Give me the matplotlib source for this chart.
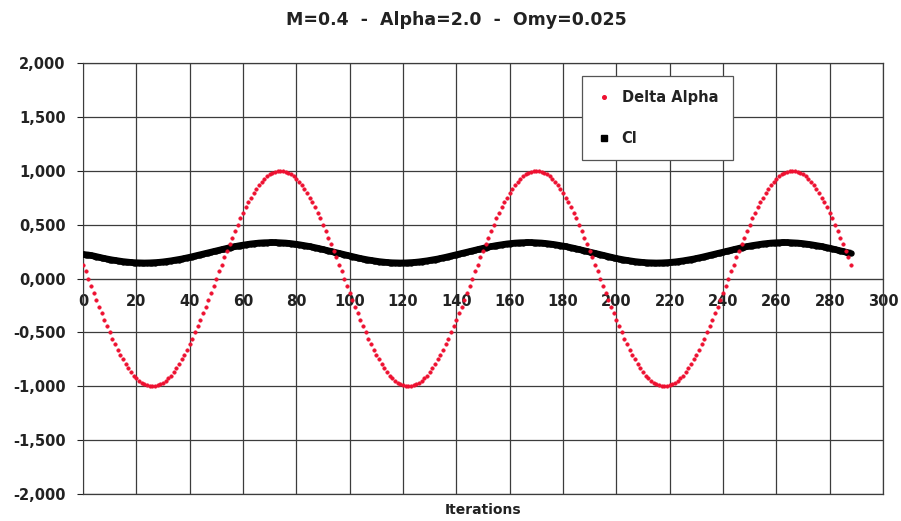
import numpy as np
import matplotlib
matplotlib.use("Agg")
import matplotlib.pyplot as plt
from matplotlib.lines import Line2D
from matplotlib.ticker import FuncFormatter, MultipleLocator

# Delta Alpha per iteration (0..288)
delta_alpha = [
    0.13, 0.07, 0.00, -0.07, -0.13, -0.20, -0.26, -0.32, -0.38, -0.44, -0.50, -0.56, -0.61, -0.66, -0.71, -0.75, -0.79, -0.83, -0.87, -0.90, -0.92, -0.95, -0.97, -0.98,
    -0.99, -1.00, -1.00, -1.00, -0.99, -0.98, -0.97, -0.95, -0.92, -0.90, -0.87, -0.83, -0.79, -0.75, -0.71, -0.66, -0.61, -0.56, -0.50, -0.44, -0.38, -0.32, -0.26, -0.20,
    -0.13, -0.07, 0.00, 0.07, 0.13, 0.20, 0.26, 0.32, 0.38, 0.44, 0.50, 0.56, 0.61, 0.66, 0.71, 0.75, 0.79, 0.83, 0.87, 0.90, 0.92, 0.95, 0.97, 0.98,
    0.99, 1.00, 1.00, 1.00, 0.99, 0.98, 0.97, 0.95, 0.92, 0.90, 0.87, 0.83, 0.79, 0.75, 0.71, 0.66, 0.61, 0.56, 0.50, 0.44, 0.38, 0.32, 0.26, 0.20,
    0.13, 0.07, 0.00, -0.07, -0.13, -0.20, -0.26, -0.32, -0.38, -0.44, -0.50, -0.56, -0.61, -0.66, -0.71, -0.75, -0.79, -0.83, -0.87, -0.90, -0.92, -0.95, -0.97, -0.98,
    -0.99, -1.00, -1.00, -1.00, -0.99, -0.98, -0.97, -0.95, -0.92, -0.90, -0.87, -0.83, -0.79, -0.75, -0.71, -0.66, -0.61, -0.56, -0.50, -0.44, -0.38, -0.32, -0.26, -0.20,
    -0.13, -0.07, 0.00, 0.07, 0.13, 0.20, 0.26, 0.32, 0.38, 0.44, 0.50, 0.56, 0.61, 0.66, 0.71, 0.75, 0.79, 0.83, 0.87, 0.90, 0.92, 0.95, 0.97, 0.98,
    0.99, 1.00, 1.00, 1.00, 0.99, 0.98, 0.97, 0.95, 0.92, 0.90, 0.87, 0.83, 0.79, 0.75, 0.71, 0.66, 0.61, 0.56, 0.50, 0.44, 0.38, 0.32, 0.26, 0.20,
    0.13, 0.07, 0.00, -0.07, -0.13, -0.20, -0.26, -0.32, -0.38, -0.44, -0.50, -0.56, -0.61, -0.66, -0.71, -0.75, -0.79, -0.83, -0.87, -0.90, -0.92, -0.95, -0.97, -0.98,
    -0.99, -1.00, -1.00, -1.00, -0.99, -0.98, -0.97, -0.95, -0.92, -0.90, -0.87, -0.83, -0.79, -0.75, -0.71, -0.66, -0.61, -0.56, -0.50, -0.44, -0.38, -0.32, -0.26, -0.20,
    -0.13, -0.07, 0.00, 0.07, 0.13, 0.20, 0.26, 0.32, 0.38, 0.44, 0.50, 0.56, 0.61, 0.66, 0.71, 0.75, 0.79, 0.83, 0.87, 0.90, 0.92, 0.95, 0.97, 0.98,
    0.99, 1.00, 1.00, 1.00, 0.99, 0.98, 0.97, 0.95, 0.92, 0.90, 0.87, 0.83, 0.79, 0.75, 0.71, 0.66, 0.61, 0.56, 0.50, 0.44, 0.38, 0.32, 0.26, 0.20,
    0.13,
]

# Cl per iteration (0..288)
cl = [
    0.224, 0.222, 0.219, 0.215, 0.210, 0.204, 0.198, 0.192, 0.187, 0.182, 0.177, 0.173, 0.169, 0.165, 0.161, 0.158, 0.155, 0.152, 0.150, 0.148, 0.147, 0.146, 0.145, 0.145,
    0.145, 0.146, 0.147, 0.148, 0.150, 0.152, 0.155, 0.158, 0.161, 0.165, 0.169, 0.173, 0.177, 0.182, 0.187, 0.192, 0.198, 0.204, 0.210, 0.215, 0.221, 0.228, 0.234, 0.240,
    0.246, 0.252, 0.259, 0.265, 0.270, 0.276, 0.282, 0.288, 0.293, 0.298, 0.303, 0.307, 0.311, 0.315, 0.319, 0.322, 0.325, 0.328, 0.330, 0.332, 0.333, 0.334, 0.335, 0.335,
    0.335, 0.334, 0.333, 0.332, 0.330, 0.328, 0.325, 0.322, 0.319, 0.315, 0.311, 0.307, 0.303, 0.298, 0.293, 0.288, 0.282, 0.276, 0.270, 0.265, 0.259, 0.252, 0.246, 0.240,
    0.234, 0.228, 0.221, 0.215, 0.210, 0.204, 0.198, 0.192, 0.187, 0.182, 0.177, 0.173, 0.169, 0.165, 0.161, 0.158, 0.155, 0.152, 0.150, 0.148, 0.147, 0.146, 0.145, 0.145,
    0.145, 0.146, 0.147, 0.148, 0.150, 0.152, 0.155, 0.158, 0.161, 0.165, 0.169, 0.173, 0.177, 0.182, 0.187, 0.192, 0.198, 0.204, 0.210, 0.215, 0.221, 0.228, 0.234, 0.240,
    0.246, 0.252, 0.259, 0.265, 0.270, 0.276, 0.282, 0.288, 0.293, 0.298, 0.303, 0.307, 0.311, 0.315, 0.319, 0.322, 0.325, 0.328, 0.330, 0.332, 0.333, 0.334, 0.335, 0.335,
    0.335, 0.334, 0.333, 0.332, 0.330, 0.328, 0.325, 0.322, 0.319, 0.315, 0.311, 0.307, 0.303, 0.298, 0.293, 0.288, 0.282, 0.276, 0.270, 0.265, 0.259, 0.252, 0.246, 0.240,
    0.234, 0.228, 0.221, 0.215, 0.210, 0.204, 0.198, 0.192, 0.187, 0.182, 0.177, 0.173, 0.169, 0.165, 0.161, 0.158, 0.155, 0.152, 0.150, 0.148, 0.147, 0.146, 0.145, 0.145,
    0.145, 0.146, 0.147, 0.148, 0.150, 0.152, 0.155, 0.158, 0.161, 0.165, 0.169, 0.173, 0.177, 0.182, 0.187, 0.192, 0.198, 0.204, 0.210, 0.215, 0.221, 0.228, 0.234, 0.240,
    0.246, 0.252, 0.259, 0.265, 0.270, 0.276, 0.282, 0.288, 0.293, 0.298, 0.303, 0.307, 0.311, 0.315, 0.319, 0.322, 0.325, 0.328, 0.330, 0.332, 0.333, 0.334, 0.335, 0.335,
    0.335, 0.334, 0.333, 0.332, 0.330, 0.328, 0.325, 0.322, 0.319, 0.315, 0.311, 0.307, 0.303, 0.298, 0.293, 0.288, 0.282, 0.276, 0.270, 0.265, 0.259, 0.252, 0.246, 0.240,
    0.236,
]

iterations = np.arange(len(delta_alpha))

plt.rcParams['font.family'] = 'DejaVu Sans'
plt.rcParams['font.weight'] = 'bold'

fig = plt.figure(figsize=(9.01, 5.21), dpi=100)
ax = fig.add_axes([0.0921, 0.0518, 0.888, 0.827])

red = '#ee1030'
# Cl: dense markers merge into a thick band
ax.plot(iterations, cl, ls='-', lw=4.8, marker='o', ms=3.6, color='black',
        mec='black', zorder=3, solid_capstyle='butt')
ax.plot(iterations, delta_alpha, ls='none', marker='o', ms=2.6, color=red,
        mec=red, mew=0.3, zorder=4)

ax.set_xlim(0, 300)
ax.set_ylim(-2, 2)
ax.xaxis.set_major_locator(MultipleLocator(20))
ax.yaxis.set_major_locator(MultipleLocator(0.5))
ax.yaxis.set_major_formatter(FuncFormatter(lambda v, p: f"{v:.3f}".replace('.', ',')))

ax.grid(True, color='#3c3c3c', lw=0.9)
ax.set_axisbelow(True)

for s in ['top', 'right']:
    ax.spines[s].set_color('#3c3c3c')
    ax.spines[s].set_linewidth(0.9)
ax.spines['left'].set_color('#3c3c3c')
ax.spines['bottom'].set_position(('data', 0))
ax.spines['bottom'].set_color('#3c3c3c')
ax.axhline(-2, color='#3c3c3c', lw=0.9, clip_on=False)

ax.tick_params(axis='y', direction='out', length=4.5, width=0.8, pad=8,
               labelsize=10.5, colors='#222222')
ax.tick_params(axis='x', direction='out', length=0, pad=11,
               labelsize=10.5, colors='#222222')

ax.text(0.5, -0.037, 'Iterations', transform=ax.transAxes, ha='center',
        va='center', fontsize=10, fontweight='bold', color='#222222')
fig.text(0.507, 0.962, 'M=0.4  -  Alpha=2.0  -  Omy=0.025', ha='center',
         va='center', fontsize=12.5, fontweight='bold', color='#222222')

handles = [
    Line2D([], [], ls='none', marker='o', ms=2.6, color=red, mec=red),
    Line2D([], [], ls='none', marker='s', ms=4.6, color='black'),
]
leg = ax.legend(handles, ['Delta Alpha', 'Cl'], loc='upper left',
                bbox_to_anchor=(0.624, 0.971), frameon=True, fancybox=False,
                edgecolor='#555555', framealpha=1, fontsize=10.5,
                borderpad=1.0, labelspacing=1.75, handlelength=1.0,
                handletextpad=0.7, borderaxespad=0)
leg.get_frame().set_linewidth(0.9)
for t in leg.get_texts():
    t.set_color('#222222')

fig.savefig('out.png', dpi=100, facecolor='white')
